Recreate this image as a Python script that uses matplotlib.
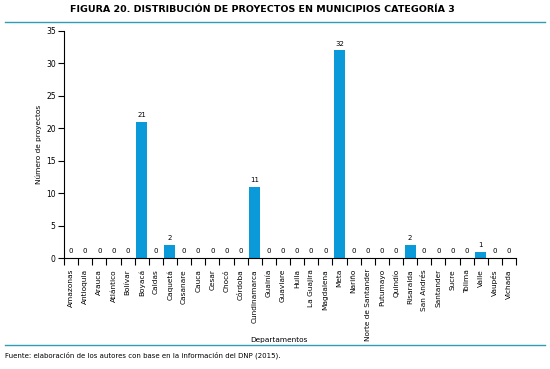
import matplotlib.pyplot as plt
from matplotlib.lines import Line2D
import numpy as np

plt.rcParams['font.family'] = ['Liberation Sans Narrow', 'DejaVu Sans']

# Data
departamentos = ['Amazonas', 'Antioquia', 'Arauca', 'Atlántico', 'Bolívar', 'Boyacá',
                 'Caldas', 'Caquetá', 'Casanare', 'Cauca', 'Cesar', 'Chocó', 'Córdoba',
                 'Cundinamarca', 'Guainía', 'Guaviare', 'Huila', 'La Guajira', 'Magdalena',
                 'Meta', 'Nariño', 'Norte de Santander', 'Putumayo', 'Quindío', 'Risaralda',
                 'San Andrés', 'Santander', 'Sucre', 'Tolima', 'Valle', 'Vaupés', 'Vichada']
proyectos = [0, 0, 0, 0, 0, 21, 0, 2, 0, 0, 0, 0, 0, 11, 0, 0, 0, 0, 0, 32,
             0, 0, 0, 0, 2, 0, 0, 0, 0, 1, 0, 0]
y_ticks = [0, 5, 10, 15, 20, 25, 30, 35]

bar_color = '#0a9ad9'
line_color = '#2f9db3'

fig = plt.figure(figsize=(5.5, 3.69), dpi=100)
ax = fig.add_axes([64 / 550, 1 - 258 / 369, 452 / 550, 227 / 369])

x = np.arange(len(departamentos))
ax.bar(x, proyectos, width=0.78, color=bar_color)
for xi, v in zip(x, proyectos):
    ax.text(xi, v + 0.6, str(v), ha='center', va='bottom', fontsize=5)

ax.set_xlim(-0.5, len(departamentos) - 0.5)
ax.set_ylim(0, 35)
ax.set_yticks(y_ticks)
ax.tick_params(axis='y', labelsize=5.5, length=4, width=0.8, pad=2)

# ticks at category boundaries, labels at centres
ax.set_xticks(np.arange(len(departamentos) + 1) - 0.5)
ax.set_xticklabels([])
ax.tick_params(axis='x', which='major', length=5, width=0.8)
ax.set_xticks(x, minor=True)
ax.set_xticklabels(departamentos, minor=True, rotation=90, fontsize=5.3)
ax.tick_params(axis='x', which='minor', length=0, pad=8)

ax.spines['top'].set_visible(False)
ax.spines['right'].set_visible(False)
ax.spines['left'].set_linewidth(0.8)
ax.spines['bottom'].set_linewidth(0.8)

ax.set_ylabel('Número de proyectos', fontsize=5.3, labelpad=3)
fig.text(279 / 550, 1 - 340 / 369, 'Departamentos', ha='center', va='center', fontsize=5.3)

fig.text(262 / 550, 1 - 10 / 369, 'FIGURA 20. DISTRIBUCIÓN DE PROYECTOS EN MUNICIPIOS CATEGORÍA 3',
         ha='center', va='center', fontsize=6.8, fontweight='bold')
fig.add_artist(Line2D([5 / 550, 545 / 550], [1 - 22 / 369, 1 - 22 / 369],
                      color=line_color, linewidth=1))
fig.add_artist(Line2D([5 / 550, 545 / 550], [1 - 345 / 369, 1 - 345 / 369],
                      color=line_color, linewidth=1))
fig.text(5 / 550, 1 - 355 / 369,
         'Fuente: elaboración de los autores con base en la información del DNP (2015).',
         ha='left', va='center', fontsize=5)

fig.savefig('out.png', dpi=100)
